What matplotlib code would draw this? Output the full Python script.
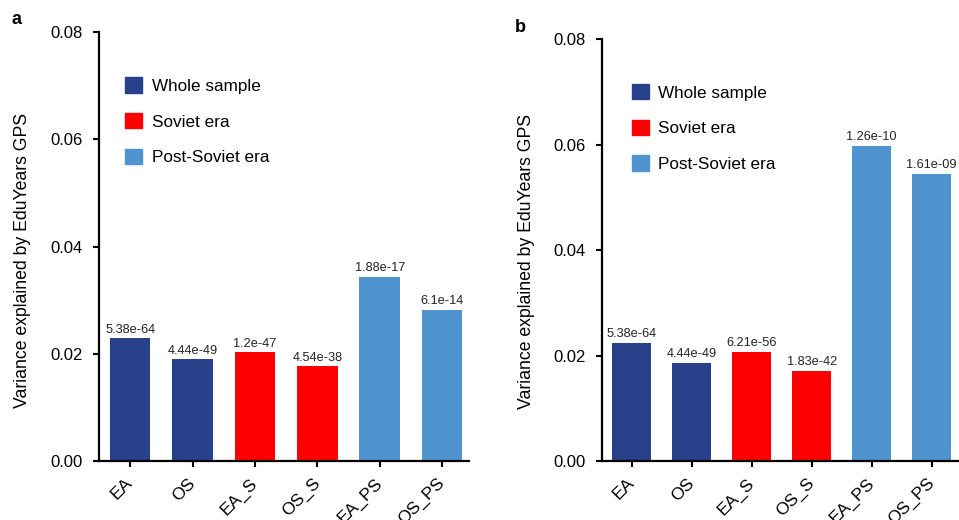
import matplotlib
matplotlib.use("Agg")
import matplotlib.pyplot as plt
from matplotlib.patches import Patch

plt.rcParams['font.family'] = ['Liberation Sans', 'DejaVu Sans']

groups = ['EA', 'OS', 'EA_S', 'OS_S', 'EA_PS', 'OS_PS']
series_names = ['Whole sample', 'Soviet era', 'Post-Soviet era']
colors = ['#27418b', '#ff0000', '#4f94cf']
bar_series = [0, 0, 1, 1, 2, 2]

var_a = [0.0229, 0.0190, 0.0203, 0.0177, 0.0343, 0.0282]
pval_a = ['5.38e-64', '4.44e-49', '1.2e-47', '4.54e-38', '1.88e-17', '6.1e-14']

var_b = [0.0224, 0.0186, 0.0207, 0.0171, 0.0598, 0.0545]
pval_b = ['5.38e-64', '4.44e-49', '6.21e-56', '1.83e-42', '1.26e-10', '1.61e-09']

fig = plt.figure(figsize=(9.59, 5.2), dpi=100)
ax1 = fig.add_axes([0.1032, 0.1129, 0.3858, 0.8256])
ax2 = fig.add_axes([0.6274, 0.1129, 0.3754, 0.8121])


def draw_panel(ax, vals, pvals, xmax, letter, lx, ly, leg_xy, lab_xy):
    x = list(range(len(groups)))
    cols = [colors[s] for s in bar_series]
    bars = ax.bar(x, vals, width=0.65, color=cols)
    for b, p in zip(bars, pvals):
        ax.annotate(p, (b.get_x() + b.get_width() / 2, b.get_height()),
                    xytext=(0, 2), textcoords='offset points',
                    ha='center', va='bottom', fontsize=9.2, color='#222222')
    ax.set_xlim(-0.5, xmax)
    ax.set_ylim(0, 0.08)
    ax.set_yticks([0, 0.02, 0.04, 0.06, 0.08])
    ax.set_yticklabels(['0.00', '0.02', '0.04', '0.06', '0.08'])
    ax.set_xticks(x)
    ax.set_xticklabels(groups)
    ax.tick_params(labelsize=12, width=1.5, length=4, colors='black')
    ax.tick_params(axis='x', labelsize=12.6, pad=10)
    ax.tick_params(axis='y', pad=7.5)
    plt.setp(ax.get_xticklabels(), rotation=45, ha='right', va='center',
             rotation_mode='anchor')
    for s in ['top', 'right']:
        ax.spines[s].set_visible(False)
    for s in ['left', 'bottom']:
        ax.spines[s].set_linewidth(1.6)
    ax.set_ylabel('Variance explained by EduYears GPS', fontsize=12.7)
    ax.yaxis.set_label_coords(*lab_xy)
    handles = [Patch(color=c) for c in colors]
    ax.legend(handles, series_names, loc='upper left', bbox_to_anchor=leg_xy,
              frameon=False, fontsize=12.3, handlelength=1.0, handleheight=1.0,
              handletextpad=0.55, labelspacing=1.12, borderpad=0, borderaxespad=0)
    fig.text(lx, ly, letter, fontsize=13, fontweight='bold', ha='left', va='top')


draw_panel(ax1, var_a, pval_a, 5.43, 'a', 12 / 959, 1 - 11 / 520,
           (0.071, 0.894), (-0.184, 0.467))
draw_panel(ax2, var_b, pval_b, 5.5, 'b', 515 / 959, 1 - 19 / 520,
           (0.084, 0.893), (-0.185, 0.472))

fig.savefig('out.png', dpi=100)
